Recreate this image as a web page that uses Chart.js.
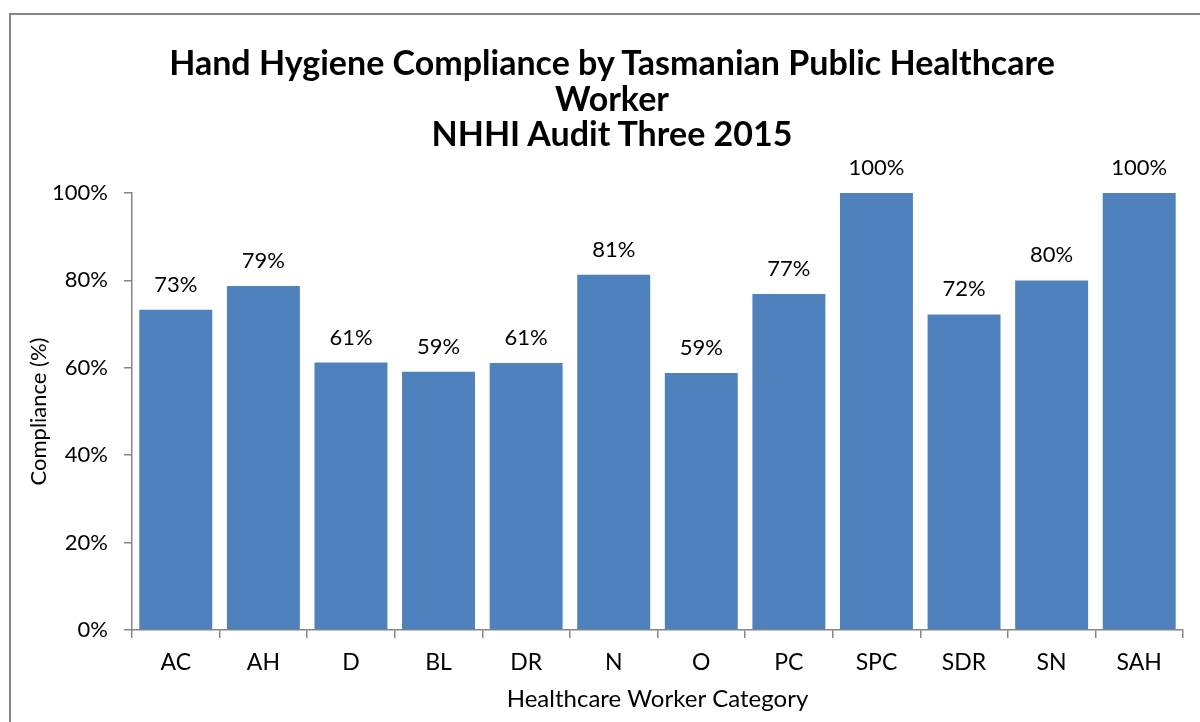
<!DOCTYPE html>
<html>
<head>
<meta charset="utf-8">
<script src="https://cdn.jsdelivr.net/npm/chart.js@4"></script>
<style>
  html, body { margin: 0; padding: 0; background: #fff; }
  #wrap { position: relative; width: 1200px; height: 722px; overflow: hidden; }
  #frame { position: absolute; left: 9px; top: 13px; width: 1400px; height: 900px; border: 2px solid #868686; }
  #title { position: absolute; left: 412px; width: 400px; top: 44px; text-align: center;
           font: bold 34px Lato, sans-serif; line-height: 35.5px; color: #000; white-space: nowrap; }
  #title div { margin-left: -300px; width: 1000px; }
  canvas { position: absolute; left: 0; top: 0; }
</style>
</head>
<body>
<div id="wrap">
  <div id="frame"></div>
  <canvas id="myChart" width="1200" height="722"></canvas>
  <div id="title">
    <div>Hand Hygiene Compliance by Tasmanian Public Healthcare</div>
    <div>Worker</div>
    <div>NHHI Audit Three 2015</div>
  </div>
</div>
<script>
// 데이터
const categories = ['AC', 'AH', 'D', 'BL', 'DR', 'N', 'O', 'PC', 'SPC', 'SDR', 'SN', 'SAH'];
const compliance = [73.3, 78.7, 61.2, 59.1, 61.1, 81.3, 58.8, 76.9, 100, 72.2, 80.0, 100];
const yTicks = [0, 20, 40, 60, 80, 100];

const axisColor = '#868686';
const fontFamily = 'Lato, sans-serif';

// 막대 위에 값 표시
const valueLabels = {
  id: 'valueLabels',
  afterDatasetsDraw(chart) {
    const ctx = chart.ctx;
    const meta = chart.getDatasetMeta(0);
    ctx.save();
    ctx.fillStyle = '#000';
    ctx.font = '22px ' + fontFamily;
    ctx.textAlign = 'center';
    ctx.textBaseline = 'alphabetic';
    meta.data.forEach((bar, i) => {
      ctx.fillText(Math.round(compliance[i]) + '%', bar.x, bar.y - 18);
    });
    ctx.restore();
  }
};

var chartArea = document.getElementById('myChart').getContext('2d');

var myChart = new Chart(chartArea, {
  type: 'bar',
  data: {
    labels: categories,
    datasets: [
      {
        label: 'Compliance',
        data: compliance,
        backgroundColor: '#4F81BD',
        borderWidth: 0,
        categoryPercentage: 1,
        barPercentage: 0.833
      }
    ]
  },
  plugins: [valueLabels],
  options: {
    responsive: false,
    animation: false,
    layout: { padding: { left: 10, right: 17, top: 193, bottom: 0 } },
    plugins: {
      legend: { display: false },
      title: { display: false },
      tooltip: { enabled: false }
    },
    scales: {
      x: {
        afterFit(scale) { scale.height = 92; },
        grid: { drawOnChartArea: false, drawTicks: true, tickLength: 8, color: axisColor, lineWidth: 1.5, offset: true },
        border: { display: true, color: axisColor, width: 1.5 },
        ticks: { color: '#000', font: { family: fontFamily, size: 23 }, padding: 11, maxRotation: 0 },
        title: {
          display: true,
          text: 'Healthcare Worker Category',
          color: '#000',
          font: { family: fontFamily, size: 24 },
          padding: { top: 4, bottom: 8 }
        }
      },
      y: {
        min: 0,
        max: 100,
        afterFit(scale) { scale.width = 122; },
        afterBuildTicks(scale) { scale.ticks = yTicks.map(v => ({ value: v })); },
        grid: { drawOnChartArea: false, drawTicks: true, tickLength: 8, color: axisColor, lineWidth: 1.5 },
        border: { display: true, color: axisColor, width: 1.5 },
        ticks: {
          color: '#000',
          font: { family: fontFamily, size: 22 },
          padding: 16,
          callback: v => v + '%'
        },
        title: {
          display: true,
          text: 'Compliance (%)',
          color: '#000',
          font: { family: fontFamily, size: 22 },
          padding: { top: 16, bottom: 0 }
        }
      }
    }
  }
});
</script>
</body>
</html>
